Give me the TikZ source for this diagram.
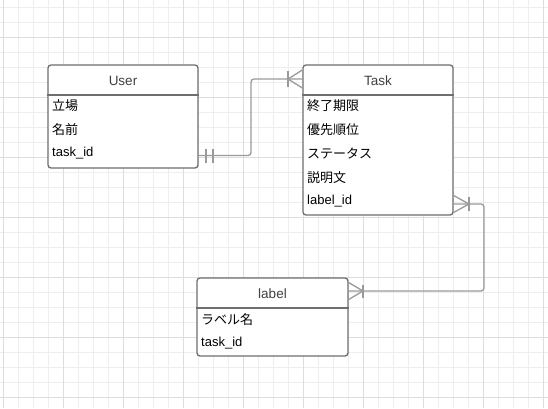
\documentclass[tikz,border=0pt]{standalone}
\usepackage{fontspec}
\usetikzlibrary{calc}
\setmainfont{Liberation Sans}
\newfontfamily\jp{Noto Sans CJK JP}
\definecolor{gridminor}{HTML}{EEEEEE}
\definecolor{gridmajor}{HTML}{DDDDDD}
\definecolor{boxline}{HTML}{6E6E6E}
\definecolor{connline}{HTML}{9A9A9A}
\definecolor{headtext}{HTML}{404040}
\tikzset{
  entity/.style={draw=boxline, line width=1.3pt, rounded corners=3pt, fill=white, inner sep=0pt},
  headtxt/.style={font=\fontsize{13.5}{15}\selectfont, text=headtext, inner sep=0pt},
  rowtxt/.style={font=\fontsize{13}{15}\selectfont, text=black, anchor=west, inner sep=0pt},
  sepline/.style={draw=boxline, line width=1.3pt},
  conn/.style={draw=connline, line width=1.3pt, rounded corners=3pt},
  ermark/.style={draw=connline, line width=1.3pt},
}
\begin{document}
\begin{tikzpicture}[x=1pt,y=-1pt]
\useasboundingbox (0,0) rectangle (548,408);
\fill[white] (0,0) rectangle (548,408);
% grid
\foreach \i in {0,...,36} {
  \pgfmathsetmacro{\xx}{3+15*\i}
  \draw[gridminor, line width=0.8pt] (\xx,0) -- (\xx,408);
}
\foreach \j in {0,...,27} {
  \pgfmathsetmacro{\yy}{7+15*\j}
  \draw[gridminor, line width=0.8pt] (0,\yy) -- (548,\yy);
}
\foreach \i in {0,...,9} {
  \pgfmathsetmacro{\xx}{3+60*\i}
  \draw[gridmajor, line width=0.8pt] (\xx,0) -- (\xx,408);
}
\foreach \j in {0,...,6} {
  \pgfmathsetmacro{\yy}{37+60*\j}
  \draw[gridmajor, line width=0.8pt] (0,\yy) -- (548,\yy);
}

% User
\node[entity, minimum width=150pt, minimum height=103pt] (user) at (123,116.5) {};
\node[headtxt] (userh) at (123,80.5) {User};
\draw[sepline] (user.west |- 0,95) -- (user.east |- 0,95);
\node[rowtxt] (u1) at (52,105.5) {\jp 立場};
\node[rowtxt] (u2) at (52,129.5) {\jp 名前};
\node[rowtxt] (u3) at (52,153.5) {task\_id};

% Task
\node[entity, minimum width=150pt, minimum height=150pt] (task) at (378,140) {};
\node[headtxt] (taskh) at (378,80.5) {Task};
\draw[sepline] (task.west |- 0,95) -- (task.east |- 0,95);
\node[rowtxt] (t1) at (307,105.5) {\jp 終了期限};
\node[rowtxt] (t2) at (307,129.5) {\jp 優先順位};
\node[rowtxt] (t3) at (307,153.5) {\jp ステータス};
\node[rowtxt] (t4) at (307,177.5) {\jp 説明文};
\node[rowtxt] (t5) at (307,201.5) {label\_id};

% label
\node[entity, minimum width=151pt, minimum height=78pt] (label) at (272.5,317) {};
\node[headtxt] (labelh) at (272.5,293.5) {label};
\draw[sepline] (label.west |- 0,308) -- (label.east |- 0,308);
\node[rowtxt] (l1) at (201,319.5) {\jp ラベル名};
\node[rowtxt] (l2) at (201,343.5) {task\_id};

% connector User -> Task
\coordinate (c1a) at (user.east |- 0,155.5);
\coordinate (c1b) at (task.west |- 0,79);
\draw[conn] (c1a) -- (251,155.5) -- (251,79) -- (c1b);
\draw[ermark] (206,148.5) -- (206,162.5);
\draw[ermark] (213,148.5) -- (213,162.5);
\draw[ermark] (288,71) -- (288,87);
\draw[ermark] ($(c1b)+(0,-9)$) -- (288,79) -- ($(c1b)+(0,9)$);

% connector Task -> label
\coordinate (c2a) at (task.east |- 0,204);
\coordinate (c2b) at (label.east |- 0,291);
\draw[conn] (c2a) -- (484,204) -- (484,291) -- (c2b);
\draw[ermark] (469,197) -- (469,211);
\draw[ermark] ($(c2a)+(0,-8.5)$) -- (469,204) -- ($(c2a)+(0,8.5)$);
\draw[ermark] (363,284.5) -- (363,297.5);
\draw[ermark] ($(c2b)+(0,-8.5)$) -- (363,291) -- ($(c2b)+(0,8.5)$);
\end{tikzpicture}
\end{document}
